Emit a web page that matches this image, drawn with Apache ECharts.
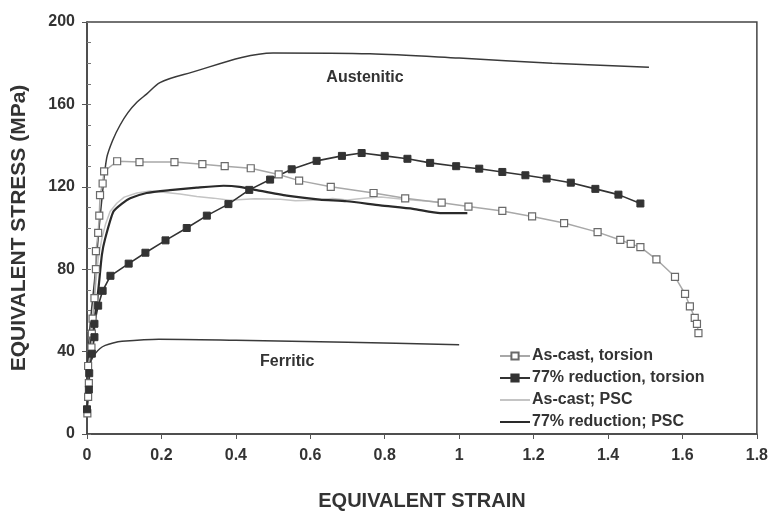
<!DOCTYPE html>
<html>
<head>
<meta charset="utf-8">
<script src="https://cdn.jsdelivr.net/npm/echarts@6/dist/echarts.min.js"></script>
<style>
html,body{margin:0;padding:0;background:#fff;}
#chart{width:771px;height:516px;}
</style>
</head>
<body>
<div id="chart"></div>
<script>
// ---- Data (strain, stress MPa) ----
const austeniticStrain = [0, 0.005, 0.012, 0.02, 0.03, 0.04, 0.053, 0.07, 0.089, 0.11, 0.134, 0.16, 0.196, 0.26, 0.5, 0.76, 1.0, 1.25, 1.51];
const austeniticStress = [25, 45, 60, 74, 95, 114, 134, 143, 150, 156, 161, 165, 170.6, 174.5, 185, 184.6, 182.5, 180, 178];

const ferriticStrain = [0, 0.005, 0.012, 0.022, 0.035, 0.049, 0.07, 0.094, 0.193, 0.4, 0.7, 1.0];
const ferriticStress = [28, 32.7, 36, 39, 41.5, 43, 44.2, 45, 46, 45.5, 44.5, 43.3];

const asCastTorsionStrain = [0.001, 0.003, 0.005, 0.003, 0.012, 0.013, 0.015, 0.02, 0.024, 0.024, 0.03, 0.033, 0.035, 0.042, 0.046, 0.081, 0.141, 0.235, 0.31, 0.37, 0.44, 0.515, 0.57, 0.655, 0.77, 0.855, 0.953, 1.025, 1.116, 1.196, 1.282, 1.372, 1.433, 1.461, 1.487, 1.53, 1.58, 1.607, 1.62, 1.633, 1.639, 1.643];
const asCastTorsionStress = [10, 18, 24.7, 33, 42, 48.7, 56, 66, 80, 88.8, 97.6, 106, 116, 121.6, 127.5, 132.4, 132, 132, 131, 130, 129, 126, 123, 120, 117, 114.4, 112.3, 110.4, 108.3, 105.6, 102.4, 98, 94.2, 92.3, 90.7, 84.8, 76.3, 68, 62, 56.4, 53.5, 49];

const redTorsionStrain = [0, 0.005, 0.006, 0.013, 0.02, 0.02, 0.03, 0.042, 0.063, 0.112, 0.157, 0.211, 0.268, 0.322, 0.38, 0.436, 0.492, 0.55, 0.617, 0.685, 0.738, 0.8, 0.861, 0.922, 0.992, 1.054, 1.116, 1.178, 1.235, 1.3, 1.366, 1.428, 1.487];
const redTorsionStress = [12, 21.6, 29.5, 39, 47, 53.5, 62.3, 69.5, 76.8, 82.7, 88, 94, 100, 106, 111.6, 118.5, 123.5, 128.5, 132.6, 135, 136.4, 135, 133.6, 131.6, 130, 128.8, 127.2, 125.6, 124, 122, 119, 116.2, 111.9];

const asCastPscStrain = [0.003, 0.008, 0.015, 0.022, 0.03, 0.04, 0.05, 0.062, 0.08, 0.1, 0.134, 0.17, 0.205, 0.25, 0.295, 0.34, 0.384, 0.45, 0.52, 0.56, 0.61, 0.66, 0.7, 0.75, 0.79, 0.85, 0.9, 0.95];
const asCastPscStress = [15, 30, 50, 70, 85, 95, 102, 108, 112, 115, 117, 118, 117.3, 116.5, 115.3, 114.5, 113.5, 114.2, 114, 113.2, 113.5, 114.3, 113.6, 114.6, 115, 114, 113.2, 112.5];

const redPscStrain = [0.003, 0.008, 0.018, 0.031, 0.04, 0.049, 0.071, 0.095, 0.116, 0.16, 0.223, 0.295, 0.367, 0.41, 0.456, 0.537, 0.626, 0.698, 0.788, 0.876, 0.949, 1.022];
const redPscStress = [30, 42, 52, 71, 87, 95, 108, 112, 114.4, 117, 118.4, 119.6, 120.5, 120, 118.4, 115.7, 113.8, 113, 111, 109.3, 107.2, 107.2];

const seriesNames = ['As-cast, torsion', '77% reduction, torsion', 'As-cast; PSC', '77% reduction; PSC'];
const curveLabels = ['Austenitic', 'Ferritic'];
const labelPos = [[0.747, 173], [0.538, 35]];

const xTicks = [0, 0.2, 0.4, 0.6, 0.8, 1, 1.2, 1.4, 1.6, 1.8];
const yTicks = [0, 40, 80, 120, 160, 200];

function zip(a, b) { return a.map((v, i) => [v, b[i]]); }

const txt = '#333';
const font = 'Liberation Sans, Arial, sans-serif';

const chart = echarts.init(document.getElementById('chart'), null, {renderer: 'canvas'});
chart.setOption({
  backgroundColor: '#fff',
  animation: false,
  grid: {left: 87, right: 14, top: 22, bottom: 78, show: true, borderColor: '#444', borderWidth: 1.5, backgroundColor: 'transparent'},
  legend: {
    data: seriesNames,
    orient: 'vertical',
    left: 494,
    top: 343,
    itemWidth: 30,
    itemHeight: 9,
    itemGap: 6,
    textStyle: {fontFamily: font, fontWeight: 'bold', fontSize: 16, color: txt, padding: [0, 0, 0, -3]}
  },
  xAxis: {
    type: 'value', min: xTicks[0], max: xTicks[xTicks.length - 1], interval: 0.2,
    name: 'EQUIVALENT STRAIN', nameLocation: 'middle', nameGap: 57,
    nameTextStyle: {fontFamily: font, fontWeight: 'bold', fontSize: 20, color: txt},
    axisLine: {lineStyle: {color: '#444', width: 1.5}},
    axisTick: {show: true, inside: false, length: 5, lineStyle: {color: '#555'}},
    axisLabel: {fontFamily: font, fontWeight: 'bold', fontSize: 16, color: txt, margin: 14},
    splitLine: {show: false}
  },
  yAxis: [{
    type: 'value', min: yTicks[0], max: yTicks[yTicks.length - 1], interval: 40,
    name: 'EQUIVALENT STRESS (MPa)', nameLocation: 'middle', nameGap: 57,
    nameTextStyle: {fontFamily: font, fontWeight: 'bold', fontSize: 21, color: txt},
    axisLine: {lineStyle: {color: '#444', width: 1.5}},
    axisTick: {show: true, inside: false, length: 5, lineStyle: {color: '#555'}},
    axisLabel: {fontFamily: font, fontWeight: 'bold', fontSize: 16, color: txt, margin: 12},
    splitLine: {show: false}
  }, {
    type: 'value', min: 0, max: 200, interval: 10, position: 'left', offset: 0,
    axisLine: {show: false},
    axisTick: {show: true, inside: true, length: 4, lineStyle: {color: '#777'}},
    axisLabel: {show: false},
    splitLine: {show: false}
  }],
  series: [
    {
      name: 'Austenitic', type: 'line', data: zip(austeniticStrain, austeniticStress),
      showSymbol: false, symbol: 'none', smooth: 0.3,
      lineStyle: {color: '#3a3a3a', width: 1.5}, itemStyle: {color: '#3a3a3a'},
      markPoint: {symbol: 'circle', symbolSize: 0, data: [{coord: labelPos[0], value: curveLabels[0]}],
        label: {show: true, formatter: curveLabels[0], fontFamily: font, fontWeight: 'bold', fontSize: 16, color: txt}}
    },
    {
      name: 'Ferritic', type: 'line', data: zip(ferriticStrain, ferriticStress),
      showSymbol: false, symbol: 'none', smooth: 0.3,
      lineStyle: {color: '#3a3a3a', width: 1.5}, itemStyle: {color: '#3a3a3a'},
      markPoint: {symbol: 'circle', symbolSize: 0, data: [{coord: labelPos[1], value: curveLabels[1]}],
        label: {show: true, formatter: curveLabels[1], fontFamily: font, fontWeight: 'bold', fontSize: 16, color: txt}}
    },
    {
      name: seriesNames[2], type: 'line', data: zip(asCastPscStrain, asCastPscStress),
      showSymbol: false, symbol: 'none',
      lineStyle: {color: '#c4c4c4', width: 1.5}, itemStyle: {color: '#c4c4c4', opacity: 0}
    },
    {
      name: seriesNames[3], type: 'line', data: zip(redPscStrain, redPscStress),
      showSymbol: false, symbol: 'none', smooth: 0.2,
      lineStyle: {color: '#2a2a2a', width: 2.2}, itemStyle: {color: '#2a2a2a', opacity: 0}
    },
    {
      name: seriesNames[0], type: 'line', data: zip(asCastTorsionStrain, asCastTorsionStress),
      symbol: 'rect', symbolSize: 7, showSymbol: true,
      lineStyle: {color: '#a8a8a8', width: 1.5},
      itemStyle: {color: '#fff', borderColor: '#6a6a6a', borderWidth: 1.2}
    },
    {
      name: seriesNames[1], type: 'line', data: zip(redTorsionStrain, redTorsionStress),
      symbol: 'rect', symbolSize: 7, showSymbol: true,
      lineStyle: {color: '#333', width: 1.6},
      itemStyle: {color: '#333', borderColor: '#333', borderWidth: 1}
    }
  ]
});
</script>
</body>
</html>
